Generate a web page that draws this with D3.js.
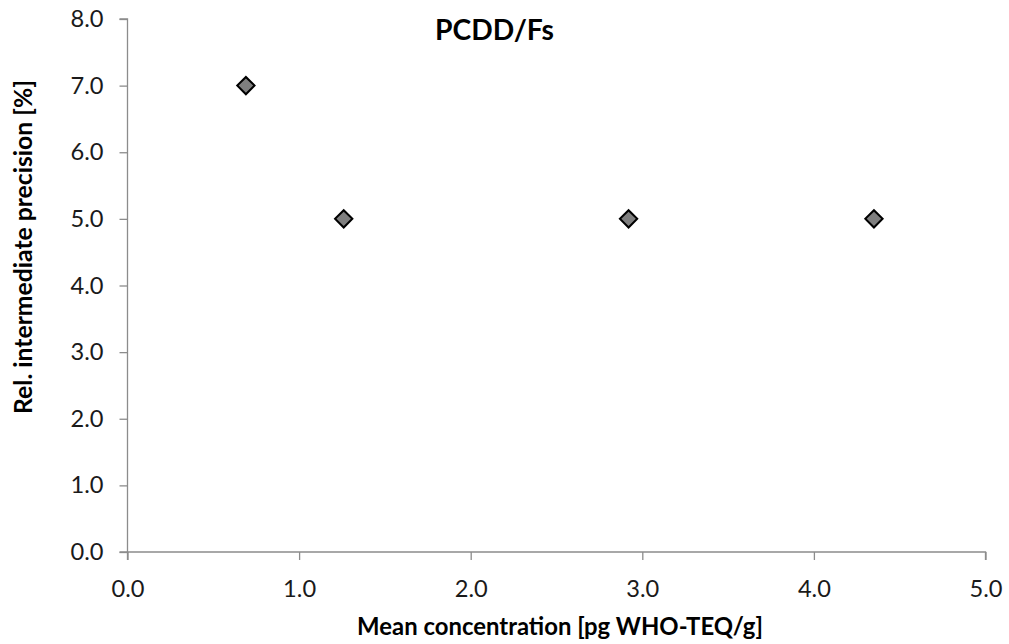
<!DOCTYPE html>
<html><head><meta charset="utf-8">
<script src="https://cdn.jsdelivr.net/npm/d3@7"></script>
<style>body{margin:0;background:#fff;} text{font-family:Lato,"Open Sans",sans-serif;}</style>
</head><body>
<svg id="c" width="1009" height="644"></svg>
<script>
const xValues = [0.69, 1.26, 2.92, 4.35];
const yValues = [7.0, 5.0, 5.0, 5.0];
const xTicks = [0, 1, 2, 3, 4, 5];
const yTicks = [0, 1, 2, 3, 4, 5, 6, 7, 8];
const title = "PCDD/Fs";
const xTitle = "Mean concentration [pg WHO-TEQ/g]";
const yTitle = "Rel. intermediate precision [%]";

const FONT = "Lato, 'Open Sans', sans-serif";
const svg = d3.select("#c");

// helper: font size so that a string spans a target width
function fitSize(str, weight, target) {
  const t = svg.append("text").style("font-family", FONT).style("font-weight", weight)
    .style("font-size", "100px").text(str);
  const w = t.node().getComputedTextLength();
  t.remove();
  return 100 * target / w;
}
const tickSize = fitSize("5.0", "normal", 33);

const x = d3.scaleLinear().domain([0, 5]).range([127.5, 985.5]);
const y = d3.scaleLinear().domain([0, 8]).range([552, 19]);

const xAxis = svg.append("g").attr("transform", "translate(0,552)")
  .call(d3.axisBottom(x).tickValues(xTicks).tickFormat(d3.format(".1f")).tickSizeInner(8).tickSizeOuter(8));
const yAxis = svg.append("g").attr("transform", "translate(127.5,0)")
  .call(d3.axisLeft(y).tickValues(yTicks).tickFormat(d3.format(".1f")).tickSizeInner(8).tickSizeOuter(8));
[xAxis, yAxis].forEach(g => {
  g.select(".domain").attr("stroke", "#8c8c8c").attr("stroke-width", 1.3);
  g.selectAll(".tick line").attr("stroke", "#8c8c8c").attr("stroke-width", 1.3);
  g.selectAll(".tick text").attr("fill", "#1a1a1a").style("font-size", tickSize + "px").style("font-family", FONT);
});
xAxis.selectAll(".tick text").attr("y", 37).attr("dy", "0.35em");
yAxis.selectAll(".tick text").attr("x", -24);
xAxis.select(".domain").attr("d", `M${x(0)},8V0H${x(5)}V8`);
yAxis.select(".domain").attr("d", `M-8,${y(8)}H0V${y(0)}H-8`);

const sym = d3.symbol().type(d3.symbolSquare).size(150);
svg.append("g").selectAll("path").data(xValues).join("path")
  .attr("d", sym)
  .attr("transform", (d, i) => `translate(${x(d)},${y(yValues[i])}) rotate(45)`)
  .attr("fill", "#7f7f7f").attr("stroke", "#000").attr("stroke-width", 2);

svg.append("text").attr("x", 494.5).attr("y", 40).attr("text-anchor", "middle")
  .style("font-size", fitSize(title, "bold", 119) + "px").style("font-weight", "bold").attr("fill", "#000").text(title);
svg.append("text").attr("x", 560).attr("y", 635).attr("text-anchor", "middle")
  .style("font-size", fitSize(xTitle, "bold", 406) + "px").style("font-weight", "bold").attr("fill", "#000").text(xTitle);
svg.append("text").attr("transform", "translate(32,247) rotate(-90)").attr("text-anchor", "middle")
  .style("font-size", fitSize(yTitle, "bold", 334) + "px").style("font-weight", "bold").attr("fill", "#000").text(yTitle);
</script>
</body></html>
